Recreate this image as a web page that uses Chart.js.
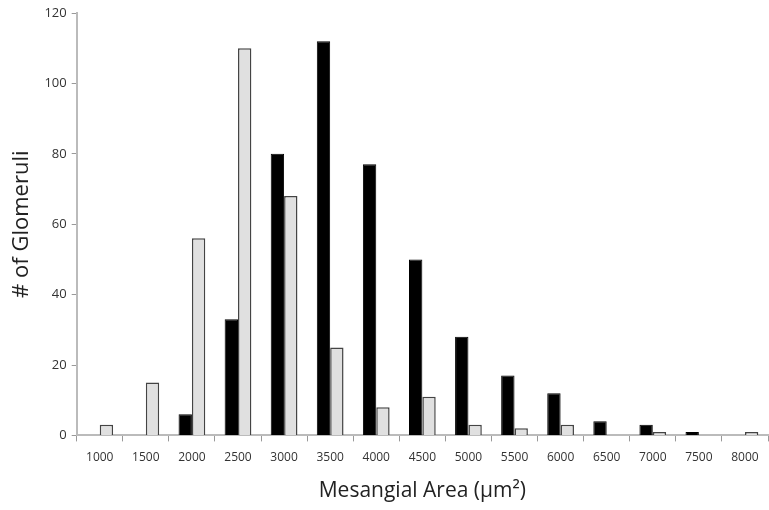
<!doctype html>
<html>
<head>
<meta charset="utf-8">
<script src="https://cdn.jsdelivr.net/npm/chart.js"></script>
<style>html,body{margin:0;padding:0;background:#fff}#wrap{width:769px;height:510px}</style>
</head>
<body>
<div id="wrap"><canvas id="chart" width="769" height="510"></canvas></div>
<script>
const areas = ['1000','1500','2000','2500','3000','3500','4000','4500','5000','5500','6000','6500','7000','7500','8000'];
const blackCounts = [0, 0, 6, 33, 80, 112, 77, 50, 28, 17, 12, 4, 3, 1, 0];
const grayCounts = [3, 15, 56, 110, 68, 25, 8, 11, 3, 2, 3, 0, 1, 0, 1];
const yTicks = [0, 20, 40, 60, 80, 100, 120];

const font = "'Open Sans', 'Liberation Sans', sans-serif";
new Chart(document.getElementById('chart'), {
  type: 'bar',
  data: {
    labels: areas,
    datasets: [
      { label: 'A', data: blackCounts, backgroundColor: '#000', borderColor: '#000', borderWidth: 1,
        categoryPercentage: 0.58, barPercentage: 1.0 },
      { label: 'B', data: grayCounts, backgroundColor: '#e0e0e0', borderColor: '#444', borderWidth: 1.5,
        categoryPercentage: 0.58, barPercentage: 1.0 }
    ]
  },
  options: {
    responsive: false,
    animation: false,
    layout: { padding: { top: 13, right: 1, left: 5, bottom: 2 } },
    plugins: { legend: { display: false }, tooltip: { enabled: false } },
    scales: {
      x: {
        grid: { display: true, offset: true, drawOnChartArea: false, drawTicks: true, tickLength: 6, color: '#999' },
        border: { color: '#bbb', width: 2 },
        ticks: { color: '#333', font: { family: font, size: 12 }, padding: 9, maxRotation: 0, autoSkip: false },
        title: { display: true, text: 'Mesangial Area (µm²)', color: '#222', font: { family: font, size: 21 }, padding: { top: 5 } }
      },
      y: {
        min: 0, max: 120,
        afterBuildTicks: s => { s.ticks = yTicks.map(v => ({ value: v })); },
        grid: { display: true, drawOnChartArea: false, drawTicks: true, tickLength: 5, color: '#999' },
        border: { color: '#bbb', width: 2 },
        ticks: { color: '#333', font: { family: font, size: 13 }, padding: 5 },
        title: { display: true, text: '# of Glomeruli', color: '#222', font: { family: font, size: 22 }, padding: { bottom: 4 } }
      }
    }
  }
});
</script>
</body>
</html>
